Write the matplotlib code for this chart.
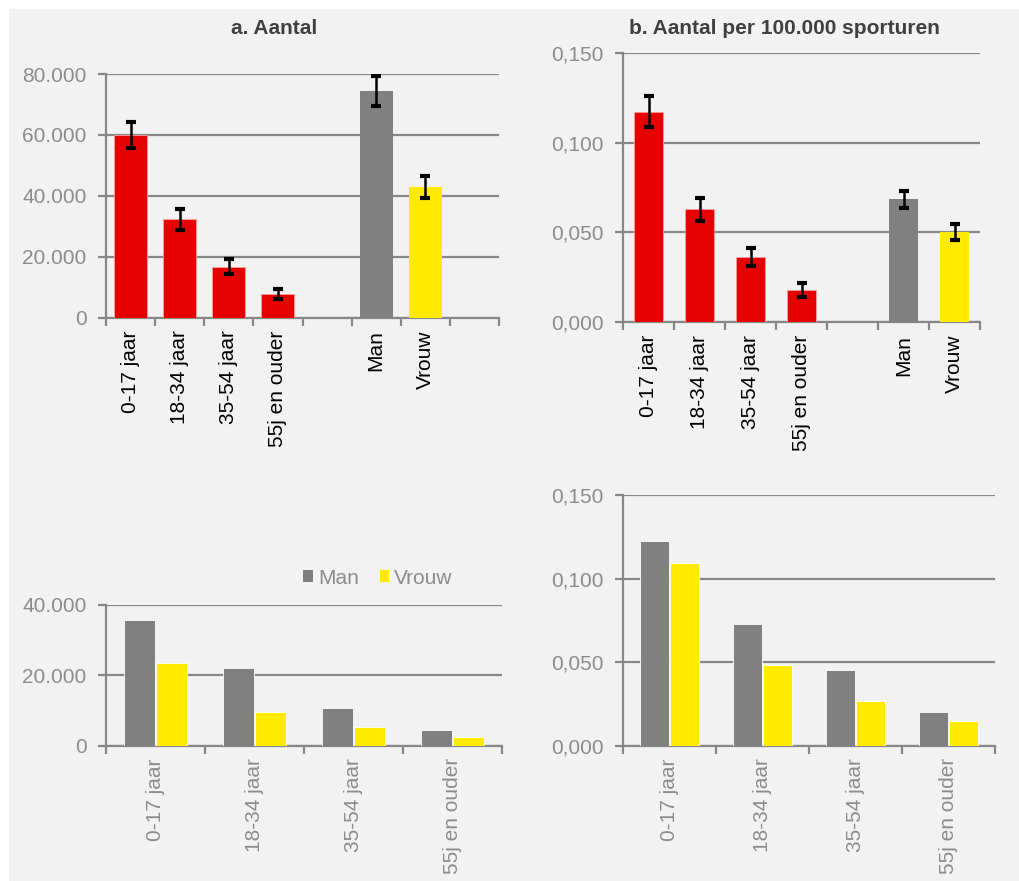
import matplotlib
matplotlib.use("Agg")
import matplotlib.pyplot as plt
from matplotlib.patches import Rectangle, Patch
from matplotlib.ticker import FixedLocator, FuncFormatter

plt.rcParams['font.family'] = ['Liberation Sans', 'DejaVu Sans']

# ---- data -------------------------------------------------------------
age_groups = ["0-17 jaar", "18-34 jaar", "35-54 jaar", "55j en ouder"]
sexes = ["Man", "Vrouw"]

# a. Aantal (totaal per leeftijdsgroep en per geslacht) met foutmarge
count_age = [60000, 32300, 16800, 7900]
count_age_err = [4400, 3300, 2400, 1600]
count_sex = [74500, 43000]
count_sex_err = [4900, 3700]

# b. Aantal per 100.000 sporturen met foutmarge
rate_age = [0.1172, 0.0629, 0.0365, 0.0178]
rate_age_err = [0.0086, 0.0064, 0.0050, 0.0038]
rate_sex = [0.0684, 0.0502]
rate_sex_err = [0.0047, 0.0045]

# uitsplitsing leeftijd x geslacht
count_man = [35600, 22000, 10800, 4550]
count_vrouw = [23600, 9700, 5300, 2560]
rate_man = [0.1227, 0.0726, 0.0451, 0.0200]
rate_vrouw = [0.1093, 0.0483, 0.0266, 0.0148]

# ---- styling ----------------------------------------------------------
RED = "#e60000"
GREY = "#808080"
YELLOW = "#ffea00"
BG = "#f2f2f2"
LINE = "#878787"
LABEL = "#8c8c8c"
FS = 15

W, H = 1019, 881
fig = plt.figure(figsize=(W / 100, H / 100), dpi=100, facecolor="white")
fig.patches.append(Rectangle((9 / W, 0), 1 - 9 / W, 1 - 9 / H, transform=fig.transFigure,
                             facecolor=BG, edgecolor="none", zorder=-10))


def px_axes(x0, y_top, x1, y_bot):
    return fig.add_axes([x0 / W, 1 - y_bot / H, (x1 - x0) / W, (y_bot - y_top) / H])


def style(ax, nslots, ymax, yticks, fmt, xlabels, xcolor, xpos):
    ax.set_facecolor("none")
    for s in ("top", "right"):
        ax.spines[s].set_visible(False)
    for s in ("left", "bottom"):
        ax.spines[s].set_color(LINE)
        ax.spines[s].set_linewidth(1.6)
    ax.set_xlim(-0.5, nslots - 0.5)
    ax.set_ylim(0, ymax)
    ax.yaxis.set_major_locator(FixedLocator(yticks))
    ax.yaxis.set_major_formatter(FuncFormatter(fmt))
    ax.yaxis.grid(True, color=LINE, linewidth=1.6)
    ax.set_axisbelow(True)
    ax.tick_params(axis="y", length=6, width=1.6, color=LINE, labelcolor=LABEL,
                   labelsize=FS, pad=8)
    ax.set_xticks(xpos)
    ax.set_xticklabels(xlabels, rotation=90, va="top", ha="center")
    ax.tick_params(axis="x", which="major", length=0, labelsize=FS, labelcolor=xcolor, pad=9)
    ax.set_xticks([i - 0.5 for i in range(nslots + 1)], minor=True)
    ax.tick_params(axis="x", which="minor", length=6, width=1.6, color=LINE)


def fmt_count(v, _):
    return f"{int(round(v)):,}".replace(",", ".")


def fmt_rate(v, _):
    return f"{v:.3f}".replace(".", ",")


err_kw = dict(fmt="none", ecolor="black", elinewidth=1.8, capsize=3.8, capthick=3.0, zorder=5)

# ---- a. Aantal --------------------------------------------------------
ax1 = px_axes(106, 74, 499, 318)
pos_age = list(range(len(age_groups)))
pos_sex = [len(age_groups) + 1 + i for i in range(len(sexes))]
ax1.bar(pos_age, count_age, width=0.67, color=RED, edgecolor="#f5a0a0", linewidth=0.6, zorder=3)
ax1.bar(pos_sex, count_sex, width=0.67, color=[GREY, YELLOW], zorder=3)
ax1.errorbar(pos_age + pos_sex, count_age + count_sex, yerr=count_age_err + count_sex_err, **err_kw)
style(ax1, 8, 80000, [0, 20000, 40000, 60000, 80000], fmt_count,
      age_groups + sexes, "black", pos_age + pos_sex)

# ---- b. Aantal per 100.000 sporturen ----------------------------------
ax2 = px_axes(623, 52.7, 980, 322.3)
ax2.bar(pos_age, rate_age, width=0.57, color=RED, edgecolor="#f5a0a0", linewidth=0.6, zorder=3)
ax2.bar(pos_sex, rate_sex, width=0.57, color=[GREY, YELLOW], zorder=3)
ax2.errorbar(pos_age + pos_sex, rate_age + rate_sex, yerr=rate_age_err + rate_sex_err, **err_kw)
style(ax2, 7, 0.15, [0, 0.05, 0.10, 0.15], fmt_rate,
      age_groups + sexes, "black", pos_age + pos_sex)

fig.text(274 / W, 1 - 28 / H, "a. Aantal", ha="center", va="center",
         fontsize=15, fontweight="bold", color="#404040")
fig.text(784 / W, 1 - 28 / H, "b. Aantal per 100.000 sporturen", ha="center", va="center",
         fontsize=15, fontweight="bold", color="#404040")

# ---- uitsplitsing naar geslacht ---------------------------------------
off, bw = 0.16, 0.31
ax3 = px_axes(106, 605, 502, 745.7)
ax3.bar([p - off for p in pos_age], count_man, width=bw, color=GREY, edgecolor="white",
        linewidth=0.6, zorder=3)
ax3.bar([p + off for p in pos_age], count_vrouw, width=bw, color=YELLOW, edgecolor="white",
        linewidth=0.6, zorder=3)
style(ax3, 4, 40000, [0, 20000, 40000], fmt_count, age_groups, LABEL, pos_age)

ax4 = px_axes(623, 495, 995, 745.7)
ax4.bar([p - off for p in pos_age], rate_man, width=bw, color=GREY, edgecolor="white",
        linewidth=0.6, zorder=3)
ax4.bar([p + off for p in pos_age], rate_vrouw, width=bw, color=YELLOW, edgecolor="white",
        linewidth=0.6, zorder=3)
style(ax4, 4, 0.15, [0, 0.05, 0.10, 0.15], fmt_rate, age_groups, LABEL, pos_age)

handles = [Patch(facecolor=GREY, edgecolor="none"), Patch(facecolor=YELLOW, edgecolor="none")]
fig.legend(handles, sexes, loc="center", bbox_to_anchor=(378 / W, 1 - 578 / H), ncol=2,
           frameon=False, fontsize=FS, labelcolor=LABEL, handlelength=0.45, handleheight=0.45,
           handletextpad=0.25, columnspacing=1.0, borderaxespad=0)

fig.savefig("out.png", dpi=100, facecolor=fig.get_facecolor())
